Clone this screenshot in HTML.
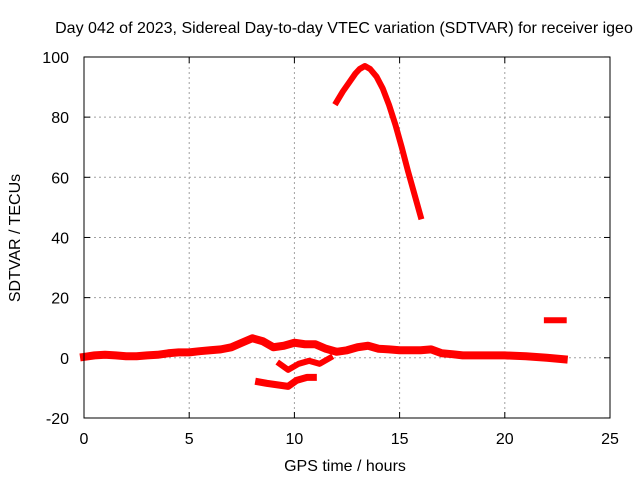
<!DOCTYPE html>
<html><head><meta charset="utf-8"><style>
body{margin:0;background:#fff}
svg{display:block;font-family:"Liberation Sans",sans-serif;font-size:16px}
</style></head><body>
<svg id="c" width="640" height="480">
<text x="344" y="33" text-anchor="middle">Day 042 of 2023, Sidereal Day-to-day VTEC variation (SDTVAR) for receiver igeo</text>
<g id="grid"></g><g id="ticks"></g><g id="marks"></g>
<rect x="84" y="57" width="526" height="361" fill="none" stroke="#000" stroke-width="1"/>
<text x="345" y="471" text-anchor="middle">GPS time / hours</text>
<text transform="translate(20,238) rotate(-90)" text-anchor="middle">SDTVAR / TECUs</text>
</svg>
<script>
const xTicks=[0,5,10,15,20,25];
const yTicks=[-20,0,20,40,60,80,100];
const mainHours=[0,0.5,1,1.5,2,2.5,3,3.5,4,4.5,5,5.5,6,6.5,7,7.5,8,8.5,9,9.5,10,10.5,11,11.5,12,12.5,13,13.5,14,14.5,15,15.5,16,16.5,17,17.5,18,19,20,21,22,22.8];
const mainVals=[0.3,0.8,1,0.8,0.5,0.5,0.8,1,1.5,1.8,1.8,2.2,2.5,2.8,3.5,5,6.5,5.5,3.5,4,5,4.5,4.5,3,2,2.5,3.5,4,3,2.8,2.5,2.5,2.5,2.8,1.5,1.2,0.8,0.8,0.8,0.5,0,-0.5];
const lowHours=[9.3,9.7,10.2,10.7,11.2,11.7];
const lowVals=[-2,-4,-2,-1,-2,0];
const bottomHours=[8.3,8.7,9.2,9.7,10.1,10.6,10.9];
const bottomVals=[-8,-8.5,-9,-9.5,-7.5,-6.5,-6.5];
const archHours=[12,12.3,12.6,12.9,13.1,13.35,13.6,13.9,14.2,14.5,14.8,15.1,15.4,15.7,16];
const archVals=[85,88.5,91.5,94.5,96,97,96,93.5,89.5,84,77.5,70,62,54.5,47];
const lateHours=[22,22.8];
const lateVals=[12.5,12.5];
const X=h=>84+h*526/25, Y=v=>357.8-v*361/120;
const NS="http://www.w3.org/2000/svg";
const g=document.getElementById('grid'),t=document.getElementById('ticks'),m=document.getElementById('marks');
function el(p,n,a){const e=document.createElementNS(NS,n);for(const k in a)e.setAttribute(k,a[k]);p.appendChild(e);return e;}
xTicks.forEach(v=>{
 if(v>0&&v<25){const l=el(g,'line',{x1:X(v),x2:X(v),y1:57,y2:418,stroke:'#a0a0a0','stroke-dasharray':'2,3'});
 
 }
 el(t,'line',{x1:X(v),x2:X(v),y1:418,y2:412,stroke:'#000'});el(t,'line',{x1:X(v),x2:X(v),y1:57,y2:63,stroke:'#000'});
 const s=el(t,'text',{x:X(v),y:444,'text-anchor':'middle'});s.textContent=v;
 
 
});
yTicks.forEach(v=>{
 if(v>-20&&v<100){const l=el(g,'line',{x1:84,x2:610,y1:Y(v),y2:Y(v),stroke:'#a0a0a0','stroke-dasharray':'2,3'});
 
 }
 el(t,'line',{x1:84,x2:90,y1:Y(v),y2:Y(v),stroke:'#000'});el(t,'line',{x1:604,x2:610,y1:Y(v),y2:Y(v),stroke:'#000'});
 const s=el(t,'text',{x:69,y:Y(v)+6,'text-anchor':'end'});s.textContent=v;
 
 
});
function series(hs,vs,w,name){
 const p=el(m,'polyline',{points:hs.map((h,i)=>X(h)+','+Y(vs[i])).join(' '),fill:'none',stroke:'#ff0000','stroke-width':w,'stroke-linejoin':'round','stroke-linecap':'square'});
 
 
}
series(mainHours,mainVals,8,'series-main-band');
series(lowHours,lowVals,6,'series-lower-branch');
series(bottomHours,bottomVals,7,'series-bottom-branch');
series(archHours,archVals,6,'series-arch');
series(lateHours,lateVals,6,'series-late-segment');
</script>
</body></html>
